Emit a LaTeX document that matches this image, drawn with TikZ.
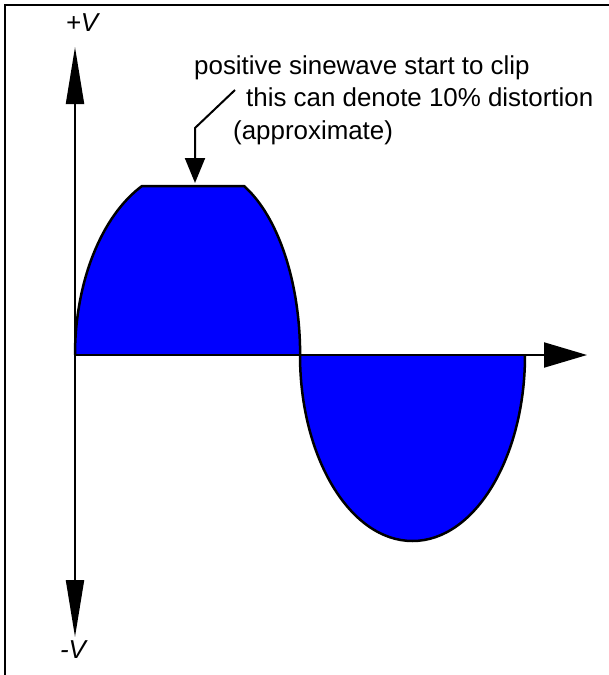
\documentclass[tikz,border=0pt]{standalone}
\usepackage{fontspec}
\setmainfont{Liberation Sans}
\usetikzlibrary{arrows.meta}
\definecolor{wave}{RGB}{0,0,255}
\tikzset{
  axisline/.style={line width=2bp, draw=black},
  note/.style={anchor=base west, inner sep=0pt, font=\fontsize{26}{32}\selectfont},
  vlabel/.style={anchor=base, inner sep=0pt, font=\fontsize{26}{32}\selectfont\itshape},
}
\begin{document}
\begin{tikzpicture}[x=1bp,y=-1bp]
\useasboundingbox (0,0) rectangle (609,675);
% frame (top and left edges)
\draw[line width=2.5bp] (609,5) -- (5,5) -- (5,675);
% waveform
\fill[wave] (75,355) arc[start angle=180, end angle=245.3, x radius=115, y radius=186]
  -- (244,186) arc[start angle=294.7, end angle=360, x radius=96.4, y radius=186] -- cycle;
\draw[line width=2.5bp, line join=round] (75,355) arc[start angle=180, end angle=245.3, x radius=115, y radius=186]
  -- (244,186) arc[start angle=294.7, end angle=360, x radius=96.4, y radius=186];
\fill[wave] (300,355) arc[start angle=180, end angle=0, x radius=112.5, y radius=186] -- cycle;
\draw[line width=2.5bp] (300,355) arc[start angle=180, end angle=0, x radius=112.5, y radius=186];
% axes
\coordinate (vtop) at (75,47);
\coordinate (vbot) at (75,637);
\coordinate (origin) at (75,355);
\coordinate (hend) at (587,355);
\draw[axisline, {Triangle[length=57bp,width=18bp]}-{Triangle[length=57bp,width=18bp]}] (vbot) -- (vtop);
\draw[axisline, -{Triangle[length=43bp,width=25bp]}] (origin) -- (hend);
\node[vlabel] (pv) at (82,32) {+V};
\node[vlabel] (mv) at (73,658) {-V};
% annotation
\node[note] (t1) at (194,75) {positive sinewave start to clip};
\node[note] (t2) at (246,107) {this can denote 10\% distortion};
\node[note] (t3) at (233,139) {(approximate)};
\coordinate (l1) at (235,90);
\coordinate (l2) at (195,128);
\coordinate (l3) at (195,183);
\draw[line width=2bp, -{Triangle[length=25bp,width=20bp]}] (l1) -- (l2) -- (l3);
\end{tikzpicture}
\end{document}
